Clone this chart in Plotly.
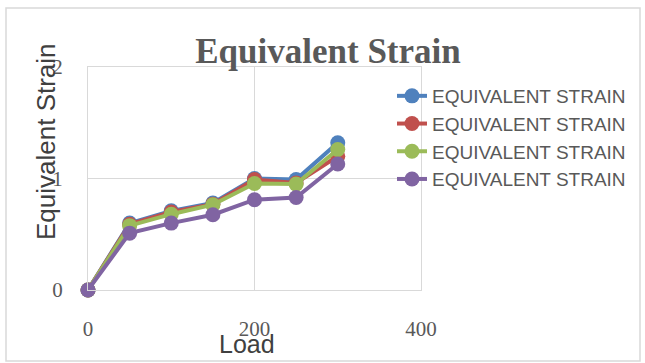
import plotly.graph_objects as go

load = [0, 50, 100, 150, 200, 250, 300]
series_names = ["EQUIVALENT STRAIN"] * 4
blue = [0, 0.60, 0.71, 0.78, 1.00, 0.99, 1.32]
red = [0, 0.59, 0.70, 0.77, 0.99, 0.96, 1.20]
green = [0, 0.577, 0.68, 0.765, 0.955, 0.95, 1.26]
purple = [0, 0.51, 0.60, 0.675, 0.81, 0.83, 1.13]
colors = ["#4F81BD", "#C0504D", "#9BBB59", "#8064A2"]
x_ticks = [0, 200, 400]
y_ticks = [0, 1, 2]

fig = go.Figure()
for i, (vals, name) in enumerate(zip([blue, red, green, purple], series_names)):
    fig.add_trace(go.Scatter(
        x=load, y=vals, name=name, mode="lines+markers",
        line=dict(color=colors[i], width=4),
        marker=dict(color=colors[i], size=15),
        cliponaxis=False, legendgroup=f"g{i}",
    ))

W, H = 645, 363
L, R, T, B = 88, 421, 67, 290

def px_to_paper(px, py):
    return (px - L) / (R - L), (B - py) / (B - T)

x0, y0 = px_to_paper(6, 361)
x1, y1 = px_to_paper(640, 8)

fig.update_layout(
    width=W, height=H,
    margin=dict(l=L, r=W - R, t=T, b=H - B, autoexpand=False),
    paper_bgcolor="white", plot_bgcolor="white",
    showlegend=True,
    title=dict(text="<b>Equivalent Strain</b>", x=328 / W, xanchor="center",
               y=1 - 51 / H, yanchor="middle", yref="container", xref="container",
               font=dict(family="Liberation Serif", size=35, color="#595959")),
    legend=dict(xref="container", yref="container", x=392 / W, y=1 - 77 / H,
                xanchor="left", yanchor="top", tracegroupgap=0,
                font=dict(family="Liberation Sans", size=19, color="#595959"),
                bgcolor="rgba(0,0,0,0)"),
    xaxis=dict(range=[0, 400], tickvals=x_ticks, showgrid=True, gridcolor="#d9d9d9",
               showline=True, linecolor="#d9d9d9", mirror=True, zeroline=False,
               ticks="", ticklabelstandoff=20,
               tickfont=dict(family="Liberation Serif", size=21, color="#595959")),
    yaxis=dict(range=[0, 2], tickvals=y_ticks, showgrid=True, gridcolor="#d9d9d9",
               showline=True, linecolor="#d9d9d9", mirror=True, zeroline=False,
               ticks="", ticklabelstandoff=20,
               tickfont=dict(family="Liberation Serif", size=21, color="#595959")),
    shapes=[dict(type="rect", xref="paper", yref="paper", x0=x0, y0=y0, x1=x1, y1=y1,
                 line=dict(color="#d9d9d9", width=1.5), layer="below")],
    annotations=[
        dict(text="Load", xref="paper", yref="paper", x=px_to_paper(247, 0)[0],
             y=px_to_paper(0, 344)[1], showarrow=False, xanchor="center", yanchor="middle",
             font=dict(family="Liberation Sans", size=25, color="#404040")),
        dict(text="Equivalent Strain", xref="paper", yref="paper", x=px_to_paper(46, 0)[0],
             y=px_to_paper(0, 142)[1], showarrow=False, textangle=-90,
             xanchor="center", yanchor="middle",
             font=dict(family="Liberation Sans", size=26, color="#404040")),
    ],
)

fig.write_html("out.html")
